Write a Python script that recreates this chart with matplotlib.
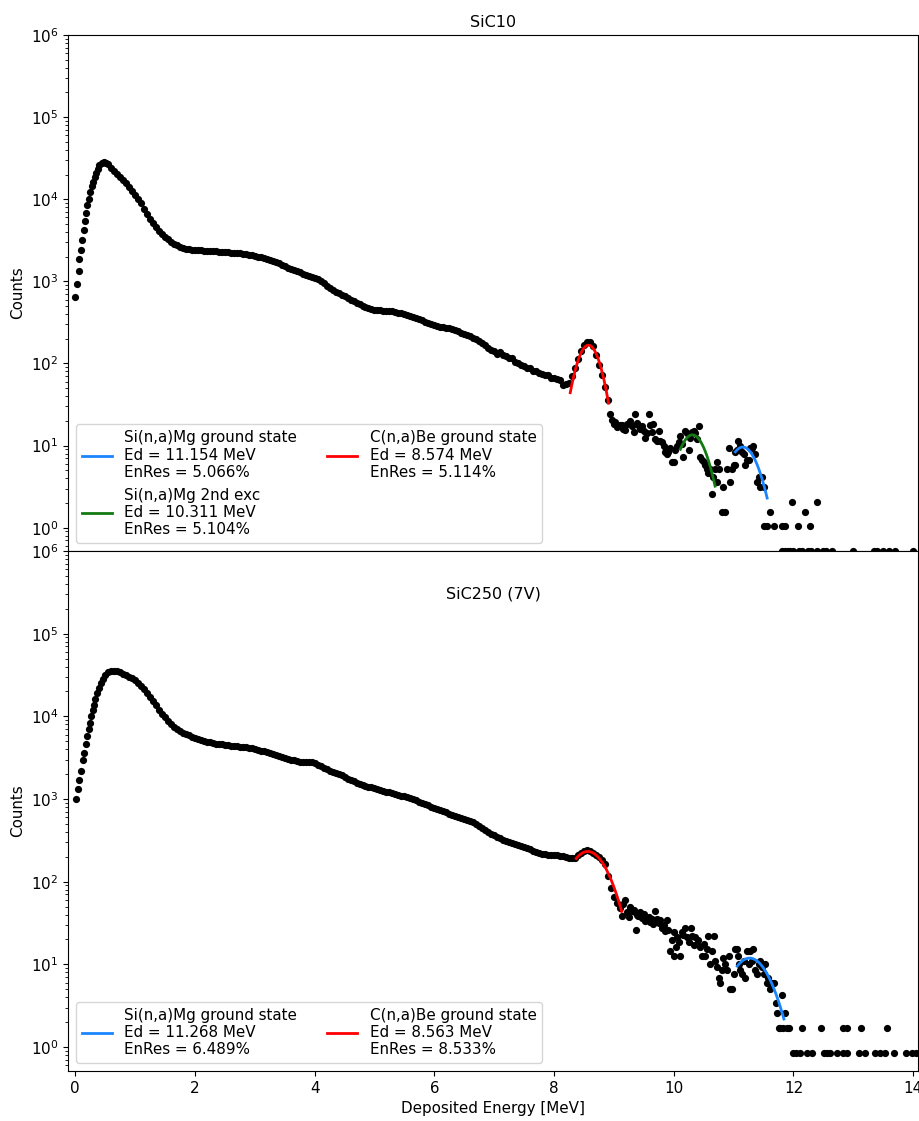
import numpy as np
import matplotlib
matplotlib.use("Agg")
import matplotlib.pyplot as plt

plt.rcParams["font.size"] = 10.9

# ---------------- SiC10 spectrum ----------------
# rising edge (energy [MeV], counts)
sic10_edge_e = [0.000, 0.033, 0.056, 0.072, 0.095, 0.111, 0.139, 0.156, 0.184, 0.200,
                0.223, 0.250, 0.273, 0.295, 0.323, 0.345, 0.373, 0.406, 0.445, 0.484, 0.518]
sic10_edge_c = [645, 920, 1350, 1850, 2400, 3230, 4270, 5440, 6860, 8500,
                10200, 12300, 14400, 16400, 18700, 21100, 23600, 25900, 27600, 28500, 27900]
# main body, sampled every 0.05 MeV starting at 0.55 MeV
sic10_body_e0 = 0.55
sic10_body_de = 0.05
sic10_body_c = [
    26500, 24300, 22200, 20400, 18700, 17200, 15600, 14200, 12700, 11400,   # 0.55-1.00
    10100, 8900, 7700, 6700, 5800, 5100, 4550, 4100, 3750, 3480,            # 1.05-1.50
    3250, 3050, 2880, 2760, 2650, 2570, 2510, 2460, 2430, 2420,             # 1.55-2.00
    2400, 2380, 2360, 2350, 2330, 2320, 2310, 2300, 2290, 2270,             # 2.05-2.50
    2250, 2240, 2230, 2210, 2190, 2170, 2140, 2110, 2080, 2040,             # 2.55-3.00
    2000, 1960, 1920, 1880, 1840, 1790, 1720, 1650, 1580, 1520,             # 3.05-3.50
    1470, 1420, 1380, 1330, 1290, 1240, 1200, 1170, 1140, 1100,             # 3.55-4.00
    1060, 1010, 950, 880, 820, 780, 750, 720, 690, 660,                     # 4.05-4.50
    630, 600, 575, 550, 525, 505, 485, 470, 458, 450,                       # 4.55-5.00
    445, 442, 440, 438, 434, 430, 424, 416, 408, 398,                       # 5.05-5.50
    388, 378, 368, 358, 348, 336, 324, 312, 300, 290,                       # 5.55-6.00
    284, 280, 276, 272, 268, 262, 254, 246, 238, 230,                       # 6.05-6.50
    222, 214, 205, 196, 188, 178, 166, 156, 146, 140,                       # 6.55-7.00
    130, 136, 127, 123, 118, 115, 103, 100, 95, 92,                         # 7.05-7.50
    89, 88, 80, 80, 77, 74, 72, 73, 66, 66,                                 # 7.55-8.00
    64, 63, 55, 56, 58, 70, 88, 112, 140, 168,                              # 8.05-8.50
    182, 180, 162, 128, 96, 72, 52, 36,                                     # 8.55-8.90
]
# sparse high-energy tail: energy and raw counts (x normalisation unit)
sic10_unit = 0.52
sic10_tail_e = [8.94, 8.97, 9.00, 9.02, 9.05, 9.08, 9.11, 9.13, 9.16, 9.19, 9.22, 9.27, 9.30,
                9.33, 9.36, 9.38, 9.41, 9.44, 9.47, 9.50, 9.52, 9.55, 9.58, 9.61, 9.64, 9.66,
                9.69, 9.72, 9.75, 9.77, 9.80, 9.83, 9.86, 9.89, 9.91, 9.94, 9.97, 10.00, 10.02,
                10.05, 10.08, 10.11, 10.13, 10.16, 10.19, 10.22, 10.25, 10.27, 10.30, 10.33,
                10.36, 10.39, 10.42, 10.44, 10.47, 10.50, 10.53, 10.55, 10.58, 10.61, 10.64,
                10.66, 10.69, 10.72, 10.72, 10.75, 10.80, 10.83, 10.86, 10.89, 10.92, 10.94,
                10.97, 11.00, 11.03, 11.03, 11.06, 11.08, 11.11, 11.14, 11.17, 11.19, 11.22,
                11.25, 11.28, 11.31, 11.33, 11.36, 11.39, 11.42, 11.44, 11.47, 11.50, 11.50,
                11.56, 11.60, 11.67, 11.80, 11.81, 11.85, 11.86, 11.90, 11.95, 11.98, 12.00,
                12.07, 12.10, 12.15, 12.20, 12.25, 12.27, 12.30, 12.40, 12.40, 12.50, 12.55,
                12.65, 13.00, 13.35, 13.40, 13.50, 13.60, 13.70, 14.00]
sic10_tail_n = [47, 39, 35, 37, 32, 33, 34, 34, 31, 30, 35, 38, 33,
                28, 47, 36, 34, 31, 33, 29, 24, 27, 46, 34, 28, 35,
                23, 22, 29, 22, 21, 19, 16, 15, 16, 18, 12, 12, 17,
                19, 21, 25, 20, 14, 29, 27, 17, 24, 28, 29,
                27, 23, 33, 14, 13, 12, 11, 10, 9, 10, 5,
                8, 10, 12, 7, 10, 3, 6, 3, 10, 18, 7,
                10, 11, 11, 16, 17, 22, 19, 16, 15, 11, 13,
                13, 18, 18, 19, 15, 7, 8, 6, 8, 2, 6,
                2, 3, 2, 1, 2, 1, 2, 1, 1, 4, 1,
                2, 1, 1, 3, 1, 2, 1, 4, 1, 1, 1,
                1, 1, 1, 1, 1, 1, 1, 1]

# ---------------- SiC250 (7V) spectrum ----------------
sic250_edge_e = [0.011, 0.039, 0.067, 0.095, 0.123, 0.150, 0.178, 0.200, 0.223, 0.245,
                 0.267, 0.290, 0.312, 0.334, 0.362, 0.390, 0.423, 0.457, 0.501]
sic250_edge_c = [995, 1330, 1705, 2190, 2925, 3650, 4610, 5710, 7000, 8280,
                 9970, 11800, 13800, 16200, 19100, 22000, 25300, 28500, 31900]
sic250_body_e0 = 0.55
sic250_body_de = 0.05
sic250_body_c = [
    34100, 35200, 35600, 35000, 34000, 32800, 31600, 30300, 28900, 27300,   # 0.55-1.00
    25500, 23500, 21400, 19300, 17200, 15300, 13600, 12100, 10800, 9800,    # 1.05-1.50
    8900, 8100, 7500, 7000, 6650, 6350, 6100, 5880, 5700, 5520,             # 1.55-2.00
    5360, 5200, 5060, 4940, 4840, 4760, 4690, 4630, 4580, 4520,             # 2.05-2.50
    4470, 4410, 4370, 4330, 4290, 4260, 4220, 4160, 4090, 4020,             # 2.55-3.00
    3950, 3860, 3770, 3680, 3590, 3500, 3410, 3320, 3230, 3140,             # 3.05-3.50
    3060, 2990, 2930, 2870, 2830, 2810, 2800, 2790, 2770, 2700,             # 3.55-4.00
    2610, 2500, 2390, 2290, 2200, 2130, 2060, 2000, 1930, 1850,             # 4.05-4.50
    1770, 1700, 1640, 1580, 1530, 1490, 1450, 1410, 1380, 1350,             # 4.55-5.00
    1320, 1290, 1260, 1230, 1200, 1180, 1150, 1130, 1100, 1080,             # 5.05-5.50
    1050, 1020, 990, 960, 930, 900, 870, 840, 810, 785,                     # 5.55-6.00
    760, 740, 715, 690, 665, 645, 625, 608, 592, 578,                       # 6.05-6.50
    564, 548, 530, 505, 478, 450, 425, 402, 382, 364,                       # 6.55-7.00
    350, 336, 322, 310, 300, 292, 284, 276, 268, 260,                       # 7.05-7.50
    254, 246, 238, 230, 224, 218, 215, 213, 211, 210,                       # 7.55-8.00
    208, 205, 202, 199, 196, 192, 195, 208, 222, 236,                       # 8.05-8.50
    240, 232, 222, 212, 200, 185, 165, 118, 85, 66, 55, 48,                 # 8.55-9.10
]
sic250_unit = 0.85
sic250_tail_e = [9.13, 9.16, 9.19, 9.22, 9.25, 9.27, 9.30, 9.33, 9.36, 9.37, 9.39, 9.41, 9.44,
                 9.47, 9.50, 9.52, 9.55, 9.58, 9.61, 9.63, 9.66, 9.69, 9.72, 9.75, 9.77, 9.80,
                 9.83, 9.86, 9.89, 9.91, 9.94, 9.97, 10.00, 10.01, 10.03, 10.05, 10.08, 10.11,
                 10.14, 10.16, 10.19, 10.22, 10.25, 10.28, 10.30, 10.33, 10.36, 10.39, 10.41,
                 10.44, 10.47, 10.50, 10.53, 10.55, 10.58, 10.61, 10.64, 10.67, 10.69, 10.72,
                 10.75, 10.78, 10.80, 10.83, 10.86, 10.89, 10.92, 10.94, 10.97, 11.00, 11.03,
                 11.06, 11.07, 11.09, 11.11, 11.14, 11.17, 11.19, 11.22, 11.25, 11.28, 11.31,
                 11.33, 11.36, 11.39, 11.42, 11.44, 11.47, 11.50, 11.53, 11.56, 11.58, 11.61,
                 11.64, 11.67, 11.70, 11.72, 11.75, 11.78, 11.81, 11.83, 11.86, 11.89, 11.92,
                 12.00, 12.05, 12.11, 12.15, 12.22, 12.31, 12.46, 12.51, 12.56, 12.61, 12.72,
                 12.82, 12.82, 12.90, 12.90, 13.10, 13.12, 13.20, 13.37, 13.45, 13.53, 13.57,
                 13.68, 13.88, 13.98, 14.05]
sic250_tail_n = [45, 63, 71, 51, 44, 58, 52, 54, 50, 31, 47, 45, 50,
                 43, 48, 39, 41, 44, 38, 42, 36, 52, 42, 37, 40, 32,
                 35, 30, 40, 31, 17, 23, 29, 15, 19, 25, 22, 15,
                 29, 27, 32, 25, 22, 32, 26, 20, 25, 21, 23,
                 19, 15, 21, 15, 18, 26, 12, 17, 26, 13, 11,
                 8, 7, 10, 14, 12, 10, 15, 6, 6, 9, 18,
                 18, 15, 12, 10, 9, 13, 8, 17, 12, 17, 13,
                 18, 10, 9, 12, 13, 11, 9, 12, 7, 8, 6,
                 7, 7, 4, 3, 2, 2, 5, 2, 3, 2, 2,
                 1, 1, 1, 2, 1, 1, 2, 1, 1, 1, 1,
                 2, 1, 2, 1, 1, 2, 1, 1, 1, 1, 2,
                 1, 1, 1, 1]

# ---------------- Gaussian fits: (label, colour, centroid, resolution %, amplitude, range) ----
sic10_fits = [
    ("Si(n,a)Mg ground state", "#1a85ff", 11.154, 5.066, 9.6, (11.03, 11.56)),
    ("Si(n,a)Mg 2nd exc", "#137a13", 10.311, 5.104, 13.5, (10.11, 10.69)),
    ("C(n,a)Be ground state", "#ff0000", 8.574, 5.114, 167.0, (8.27, 8.91)),
]
sic250_fits = [
    ("Si(n,a)Mg ground state", "#1a85ff", 11.268, 6.489, 11.9, (11.06, 11.84)),
    ("C(n,a)Be ground state", "#ff0000", 8.563, 8.533, 232.0, (8.37, 9.13)),
]


def spectrum(edge_e, edge_c, e0, de, body_c, tail_e, tail_n, unit):
    body_e = e0 + de * np.arange(len(body_c))
    e = np.concatenate([edge_e, body_e, tail_e])
    c = np.concatenate([edge_c, body_c, np.asarray(tail_n) * unit])
    return e, c


def draw(ax, e, c, fits):
    ax.plot(e, c, "o", color="black", ms=5.2, mew=0, zorder=2)
    for name, col, mu, res, amp, (lo, hi) in fits:
        sigma = res / 100.0 * mu / 2.3548
        xx = np.linspace(lo, hi, 200)
        yy = amp * np.exp(-0.5 * ((xx - mu) / sigma) ** 2)
        label = f"{name}\nEd = {mu:.3f} MeV\nEnRes = {res:.3f}%"
        ax.plot(xx, yy, "-", color=col, lw=2.0, label=label, zorder=3)
    ax.set_yscale("log")
    ax.set_ylabel("Counts")
    ax.legend(loc="lower left", ncol=2)


W, H = 920, 1121
fig = plt.figure(figsize=(W / 100, H / 100), dpi=100)
ax1 = fig.add_axes([68 / W, 1 - 551 / H, 850 / W, 516 / H])
ax2 = fig.add_axes([68 / W, 1 - 1071 / H, 850 / W, 520 / H], sharex=ax1)

e1, c1 = spectrum(sic10_edge_e, sic10_edge_c, sic10_body_e0, sic10_body_de, sic10_body_c,
                  sic10_tail_e, sic10_tail_n, sic10_unit)
e2, c2 = spectrum(sic250_edge_e, sic250_edge_c, sic250_body_e0, sic250_body_de, sic250_body_c,
                  sic250_tail_e, sic250_tail_n, sic250_unit)

draw(ax1, e1, c1, sic10_fits)
draw(ax2, e2, c2, sic250_fits)

ax1.set_ylim(0.52, 1e6)
ax2.set_ylim(0.513, 1e6)
ax1.set_xlim(-0.12, 14.08)
ax1.tick_params(labelbottom=False)
ax1.set_title("SiC10", fontsize=11.5)
ax2.text(0.5, 1 - 43 / 520, "SiC250 (7V)", transform=ax2.transAxes,
         ha="center", va="center", fontsize=11.5)
ax2.set_xlabel("Deposited Energy [MeV]")

fig.savefig("out.png", dpi=100)
